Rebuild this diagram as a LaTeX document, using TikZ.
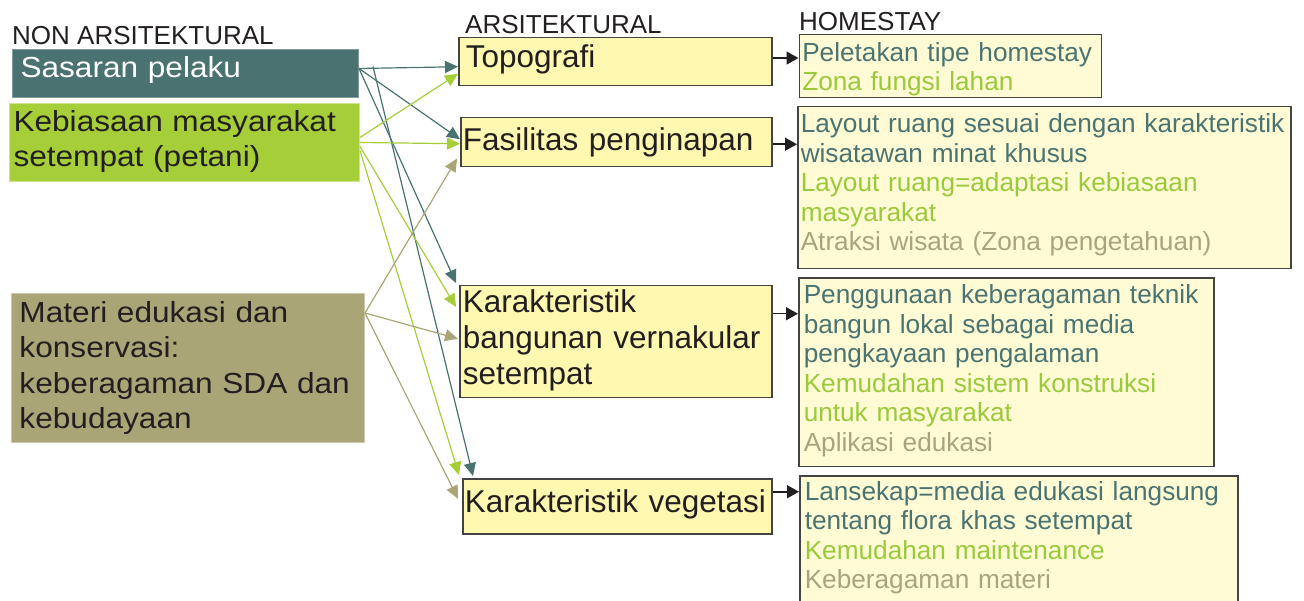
\documentclass[tikz,border=0pt]{standalone}
\usepackage{fontspec}
\setmainfont{Liberation Sans}
\newfontfamily\widefont[FakeStretch=1.09]{Liberation Sans}
\usetikzlibrary{arrows.meta}

\definecolor{ink}{HTML}{231F20}
\definecolor{tealbox}{HTML}{497271}
\definecolor{tealedge}{HTML}{7E9C9B}
\definecolor{greenbox}{HTML}{A6CE39}
\definecolor{greenedge}{HTML}{CFE48F}
\definecolor{tanbox}{HTML}{AAA576}
\definecolor{tanedge}{HTML}{CCC9AA}
\definecolor{arsfill}{HTML}{FFF8B0}
\definecolor{homefill}{HTML}{FFFBD4}
\definecolor{boxline}{HTML}{444444}
\definecolor{hsteal}{HTML}{4A7472}
\definecolor{hsgreen}{HTML}{9ACA3C}
\definecolor{hstan}{HTML}{A8A47F}

\begin{document}
\begin{tikzpicture}[x=1pt, y=-1pt,
    head/.style = {anchor=base west, inner sep=0pt, text=ink, font=\fontsize{26}{30}\selectfont},
    src/.style = {anchor=north west, inner ysep=0pt, align=left, text=ink, line width=1pt,
                  font=\widefont\fontsize{29}{35.5}\selectfont},
    ars/.style = {anchor=north west, inner ysep=0pt, align=left, draw=boxline, line width=1.5pt,
                  fill=arsfill, text=ink, font=\fontsize{31.5}{35.7}\selectfont},
    home/.style = {anchor=north west, inner ysep=0pt, align=left, draw=boxline, line width=1.5pt,
                   fill=homefill, font=\fontsize{26.2}{29.6}\selectfont},
    lnk/.style = {line width=1.2pt, -{Triangle[length=13pt,width=12pt]}},
    blk/.style = {draw=ink, line width=1.5pt, -{Triangle[length=12pt,width=13pt]}}]
    \useasboundingbox (0,0) rectangle (1304,601);

    % column headings
    \node[head] (hnon) at (12,44.3) {NON ARSITEKTURAL};
    \node[head] (hars) at (465,33.3) {ARSITEKTURAL};
    \node[head] (hhome) at (799,31) {HOMESTAY};

    % non arsitektural
    \node[src, fill=tealbox, draw=tealedge, text=white, inner xsep=8pt, text width=330pt,
          text height=28pt, text depth=20pt] (sasaran) at (12,49) {Sasaran pelaku};
    \node[src, fill=greenbox, draw=greenedge, inner xsep=4pt, text width=342pt,
          text height=28pt, text depth=50pt] (kebiasaan) at (9,103) {Kebiasaan masyarakat\\setempat (petani)};
    \node[src, fill=tanbox, draw=tanedge, inner xsep=8pt, text width=337pt,
          text height=29pt, text depth=120pt] (materi) at (11,293)
          {Materi edukasi dan\\konservasi:\\keberagaman SDA dan\\kebudayaan};

    % arsitektural
    \node[ars, inner xsep=7pt, text width=299pt, text height=30pt, text depth=18pt] (topo) at (458,37) {Topografi};
    \node[ars, inner xsep=2pt, text width=307pt, text height=33pt, text depth=16pt] (fasil) at (460,117) {Fasilitas penginapan};
    \node[ars, inner xsep=3pt, text width=306pt, text height=27pt, text depth=85pt] (bang) at (459,285)
          {Karakteristik\\bangunan vernakular\\setempat};
    \node[ars, inner xsep=2pt, text width=305pt, text height=34pt, text depth=21pt] (veget) at (462,478) {Karakteristik vegetasi};

    % homestay
    \node[home, inner xsep=3pt, text width=296pt, text height=26.5pt, text depth=36.5pt] (h1) at (798.5,34)
          {\textcolor{hsteal}{Peletakan tipe homestay}\\
           \textcolor{hsgreen}{Zona fungsi lahan}};
    \node[home, inner xsep=3pt, text width=487pt, text height=25.7pt, text depth=136.3pt] (h2) at (797,106)
          {\mbox{\textcolor{hsteal}{Layout ruang sesuai dengan karakteristik}}\\
           \textcolor{hsteal}{wisatawan minat khusus}\\
           \textcolor{hsgreen}{Layout ruang=adaptasi kebiasaan}\\
           \textcolor{hsgreen}{masyarakat}\\
           \textcolor{hstan}{Atraksi wisata (Zona pengetahuan)}};
    \node[home, inner xsep=5pt, text width=405pt, text height=25.4pt, text depth=163pt] (h3) at (798,277.3)
          {\textcolor{hsteal}{Penggunaan keberagaman teknik}\\
           \textcolor{hsteal}{bangun lokal sebagai media}\\
           \textcolor{hsteal}{pengkayaan pengalaman}\\
           \textcolor{hsgreen}{Kemudahan sistem konstruksi}\\
           \textcolor{hsgreen}{untuk masyarakat}\\
           \textcolor{hstan}{Aplikasi edukasi}};
    \node[home, inner xsep=5pt, text width=428pt, text height=24.3pt, text depth=150pt] (h4) at (799,475)
          {\textcolor{hsteal}{Lansekap=media edukasi langsung}\\
           \textcolor{hsteal}{tentang flora khas setempat}\\
           \textcolor{hsgreen}{Kemudahan maintenance}\\
           \textcolor{hstan}{Keberagaman materi}};

    % sasaran pelaku
    \draw[lnk, tealbox] ([yshift=5pt]sasaran.east) -- ([yshift=-5pt]topo.west);
    \draw[lnk, tealbox] ([yshift=5pt]sasaran.east) -- ([yshift=3pt]fasil.west);
    \draw[lnk, tealbox] ([yshift=5pt]sasaran.east) -- ([xshift=-3pt,yshift=2pt]bang.north west);
    \draw[lnk, tealbox] ([xshift=14pt,yshift=7pt]sasaran.east) -- ([xshift=11pt,yshift=2pt]veget.north west);
    % kebiasaan masyarakat
    \draw[lnk, greenbox] ([yshift=5pt]kebiasaan.east) -- ([yshift=-12pt]topo.west);
    \draw[lnk, greenbox] (kebiasaan.east) -- ([yshift=-1.5pt]fasil.west);
    \draw[lnk, greenbox] ([yshift=-4pt]kebiasaan.east) -- ([xshift=-3pt,yshift=-22pt]bang.north west);
    \draw[lnk, greenbox] ([yshift=-8pt]kebiasaan.east) -- ([xshift=-3pt,yshift=3pt]veget.north west);
    % materi edukasi
    \draw[lnk, tanbox] ([yshift=-20pt]materi.north east) -- ([xshift=-3pt,yshift=9pt]fasil.south west);
    \draw[lnk, tanbox] ([yshift=-20pt]materi.north east) -- ([xshift=-1pt,yshift=3pt]bang.west);
    \draw[lnk, tanbox] ([yshift=-20pt]materi.north east) -- ([xshift=-4pt,yshift=7.5pt]veget.west);

    % arsitektural -> homestay
    \coordinate (a1) at ([yshift=3.7pt]topo.east);
    \coordinate (a2) at ([yshift=-2pt]fasil.east);
    \coordinate (a3) at ([yshift=28pt]bang.east);
    \coordinate (a4) at ([yshift=14.5pt]veget.east);
    \draw[blk] (a1) -- (a1 -| h1.west);
    \draw[blk] (a2) -- (a2 -| h2.west);
    \draw[blk] (a3) -- (a3 -| h3.west);
    \draw[blk] (a4) -- (a4 -| h4.west);
\end{tikzpicture}
\end{document}
